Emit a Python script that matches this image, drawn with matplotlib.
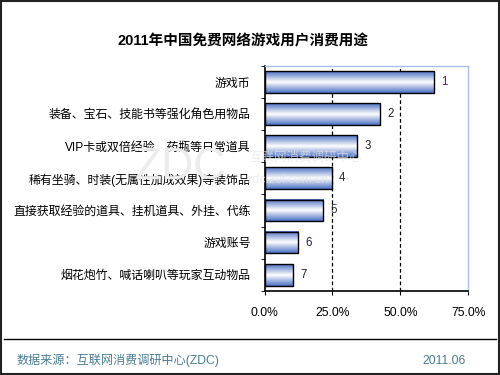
import matplotlib
matplotlib.use("Agg")
import matplotlib.pyplot as plt
import numpy as np
from matplotlib.colors import LinearSegmentedColormap
from matplotlib.lines import Line2D
from matplotlib.patches import Rectangle

plt.rcParams['font.family'] = ['Liberation Sans', 'Noto Sans CJK SC', 'DejaVu Sans']

title = "2011年中国免费网络游戏用户消费用途"
categories = ["游戏币", "装备、宝石、技能书等强化角色用物品", "VIP卡或双倍经验、药瓶等日常道具",
              "稀有坐骑、时装(无属性加成效果)等装饰品", "直接获取经验的道具、挂机道具、外挂、代练",
              "游戏账号", "烟花炮竹、喊话喇叭等玩家互动物品"]
values = [62.4, 42.6, 34.1, 24.9, 21.6, 12.4, 10.6]
ranks = ["1", "2", "3", "4", "5", "6", "7"]
xticks = [0, 25, 50, 75]
xtick_labels = ["0.0%", "25.0%", "50.0%", "75.0%"]
source = "数据来源：互联网消费调研中心(ZDC)"
date = "2011.06"

fig = plt.figure(figsize=(5, 3.75), dpi=100)
ax = fig.add_axes([0.529, 0.2248, 0.4076, 0.5992])

y = np.arange(len(categories))
bars = ax.barh(y, values, height=0.68, facecolor='none', edgecolor='black', linewidth=1.0, zorder=3)

cmap = LinearSegmentedColormap.from_list("g", [(0, '#4b70c4'), (0.5, '#ffffff'), (1, '#4b70c4')])
grad = np.linspace(0, 1, 64).reshape(-1, 1)
for b in bars:
    x0, y0 = b.get_x(), b.get_y()
    w, h = b.get_width(), b.get_height()
    ax.imshow(grad, cmap=cmap, aspect='auto', extent=(x0, x0 + w, y0 + h, y0),
              origin='upper', zorder=2, interpolation='bilinear')

ax.set_xlim(0, 75)
ax.set_ylim(len(categories) - 0.5, -0.5)

for xi in [25, 50]:
    ax.axvline(xi, color='black', linestyle=(0, (3, 2)), linewidth=0.9, zorder=1)

rank_colors = ['#7a1050', '#222222', '#222222', '#333333', '#333333', '#222244', '#222222']
for yi, v, r, c in zip(y, values, ranks, rank_colors):
    ax.text(v + 2.6, yi, r, va='center', ha='left', fontsize=8.3, color=c, zorder=4)

ax.set_xticks(xticks)
ax.set_xticklabels(xtick_labels, fontsize=8.7)
ax.set_yticks(y)
ax.set_yticklabels(categories, fontsize=8.6)
ax.tick_params(axis='y', length=0, pad=10)
ax.tick_params(axis='x', length=3, direction='out', pad=9)
ax.set_yticks(np.arange(-0.5, len(categories), 1), minor=True)
ax.tick_params(axis='y', which='minor', length=3, direction='out')

for s in ['left', 'bottom']:
    ax.spines[s].set_color('black')
    ax.spines[s].set_linewidth(1.2)
for s in ['top', 'right']:
    ax.spines[s].set_color('#a8c0ea')
    ax.spines[s].set_linewidth(1.0)

fig.text(0.487, 0.889, title, ha='center', va='center', fontsize=10.5, fontweight='bold')

# faint watermark
fig.text(0.36, 0.552, "ZDC", ha='center', va='center', fontsize=32, color='#ececec', zorder=0)
fig.text(0.612, 0.579, "互联网消费调研中心", ha='center', va='center', fontsize=9, color='#e6e6e6', zorder=10, alpha=0.7)
fig.text(0.575, 0.52, "zdc.zol.com.cn", ha='center', va='center', fontsize=9, color='#e6e6e6', zorder=10, alpha=0.7)

fig.add_artist(Line2D([0.008, 0.992], [0.0968, 0.0968], color='black', linewidth=1.0, transform=fig.transFigure))
fig.add_artist(Rectangle((0.002, 0.003), 0.996, 0.994, fill=False, edgecolor='#222222', linewidth=1.5,
                         transform=fig.transFigure))

fig.text(0.034, 0.038, source, ha='left', va='center', fontsize=8.7, color='#4a7d96')
fig.text(0.932, 0.038, date, ha='right', va='center', fontsize=8.7, color='#4a7d96')

fig.savefig("out.png", dpi=100)
